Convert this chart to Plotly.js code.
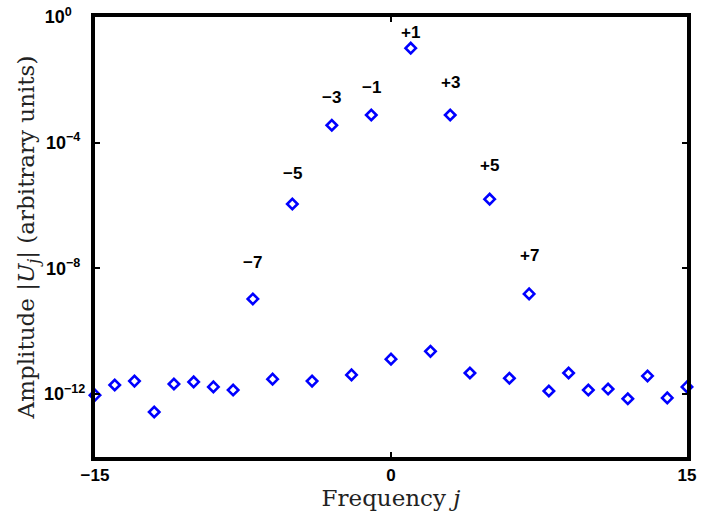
<!DOCTYPE html>
<html>
<head>
<meta charset="utf-8">
<script src="https://cdn.plot.ly/plotly-3.0.1.min.js"></script>
<style>html,body{margin:0;padding:0;background:#fff;}#chart{width:702px;height:520px;}</style>
</head>
<body>
<div id="chart"></div>
<script>
// Frequency index j
const frequencies = [-15,-14,-13,-12,-11,-10,-9,-8,-7,-6,-5,-4,-3,-2,-1,0,1,2,3,4,5,6,7,8,9,10,11,12,13,14,15];
// Amplitude |U_j| (arbitrary units)
const amplitudes = [9.3e-13,1.95e-12,2.6e-12,2.7e-13,2.1e-12,2.45e-12,1.7e-12,1.35e-12,1.07e-9,3.0e-12,
  1.12e-6,2.6e-12,3.6e-4,4.1e-12,7.6e-4,1.3e-11,0.102,2.3e-11,7.6e-4,4.7e-12,
  1.6e-6,3.2e-12,1.55e-9,1.26e-12,4.7e-12,1.35e-12,1.45e-12,7.1e-13,3.8e-12,7.6e-13,1.7e-12];
// Labelled harmonics
const labelFreqs = [-7,-5,-3,-1,1,3,5,7];
const labelTexts = ["\u22127","\u22125","\u22123","\u22121","+1","+3","+5","+7"];
// Tick labels
const xTickVals = [-15,0,15];
const xTickText = ["\u221215","0","15"];
const yTickVals = [1e-12,1e-8,1e-4,1];
const yTickText = ["10<sup>\u221212</sup>","10<sup>\u22128</sup>&nbsp;","10<sup>\u22124</sup>&nbsp;","10<sup>0&nbsp;</sup>&nbsp;&nbsp;"];

// label vertical offsets above their points (px)
const labelShift = [36,31,28,28,16,33,34,38];

const boldSans = 'Liberation Sans, Arial, Helvetica, sans-serif';

const annotations = labelFreqs.map((f,i) => {
  const idx = frequencies.indexOf(f);
  return {
    x: f, y: Math.log10(amplitudes[idx]), xref:'x', yref:'y',
    text: '<b>' + labelTexts[i] + '</b>', showarrow:false, yshift: labelShift[i],
    xanchor:'center', yanchor:'middle',
    font:{family:boldSans, size:17, color:'#000', weight:700}
  };
});

const trace = {
  x: frequencies, y: amplitudes, type:'scatter', mode:'markers',
  cliponaxis:false,
  marker:{symbol:'diamond-open', size:8, color:'#0000ff', line:{width:2.6, color:'#0000ff'}},
  hoverinfo:'skip'
};

const titleFont = {family:'"DejaVu Serif", "Liberation Serif", serif', size:23, color:'#222'};

const layout = {
  width:702, height:520,
  margin:{l:95, r:15, t:17, b:63, pad:0},
  paper_bgcolor:'#fff', plot_bgcolor:'#fff',
  showlegend:false,
  font:{family:boldSans},
  xaxis:{
    range:[-15,15], showgrid:false, zeroline:false,
    showline:true, linewidth:4, linecolor:'#000', mirror:'ticks',
    ticks:'inside', ticklen:5, tickwidth:2, tickcolor:'#000',
    tickvals:xTickVals, ticktext:xTickText.map(t => '<b>' + t + '</b>'),
    tickfont:{family:boldSans, size:17, color:'#000', weight:700},
    title:{text:'Frequency <i>j</i>', font:titleFont, standoff:2}
  },
  yaxis:{
    type:'log', range:[-14,0], showgrid:false, zeroline:false,
    showline:true, linewidth:4, linecolor:'#000', mirror:'ticks',
    ticks:'inside', ticklen:5, tickwidth:2, tickcolor:'#000',
    tickvals:yTickVals, ticktext:yTickText.map(t => '<b>' + t + '</b>'),
    tickfont:{family:boldSans, size:18, color:'#000', weight:700},
    ticklabelstandoff:2,
    title:{text:'Amplitude |<i>U</i><sub><i>j</i></sub>| (arbitrary units)', font:titleFont, standoff:4}
  },
  annotations: annotations
};

Plotly.newPlot('chart',[trace],layout,{displayModeBar:false, staticPlot:true});
</script>
</body>
</html>
